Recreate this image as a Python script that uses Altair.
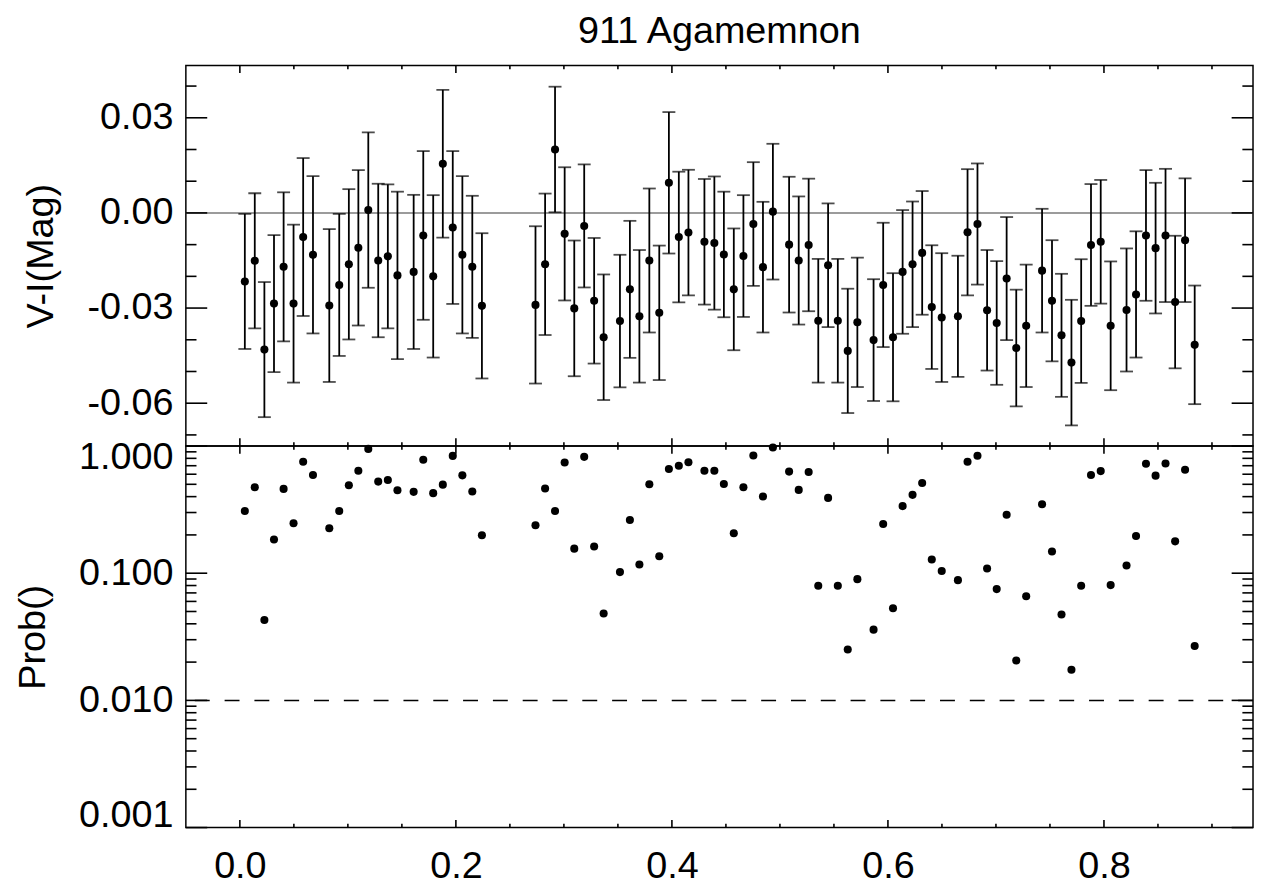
import altair as alt
import pandas as pd

# ---------------- data ----------------
phase = [0.0046, 0.0138, 0.0227, 0.0316, 0.0405, 0.0497, 0.0586, 0.0677, 0.0828, 0.0920,
         0.1009, 0.1097, 0.1189, 0.1281, 0.1370, 0.1459, 0.1609, 0.1698, 0.1790, 0.1879,
         0.1971, 0.2060, 0.2152, 0.2241, 0.2737, 0.2826, 0.2918, 0.3007, 0.3096, 0.3188,
         0.3280, 0.3368, 0.3519, 0.3611, 0.3699, 0.3791, 0.3883, 0.3972, 0.4064, 0.4153,
         0.4301, 0.4393, 0.4481, 0.4573, 0.4662, 0.4754, 0.4843, 0.4935, 0.5085, 0.5174,
         0.5266, 0.5355, 0.5446, 0.5536, 0.5628, 0.5717, 0.5867, 0.5956, 0.6047, 0.6136,
         0.6228, 0.6317, 0.6406, 0.6498, 0.6648, 0.6737, 0.6829, 0.6918, 0.7007, 0.7099,
         0.7188, 0.7280, 0.7427, 0.7519, 0.7607, 0.7699, 0.7789, 0.7880, 0.7970, 0.8062,
         0.8209, 0.8297, 0.8389, 0.8478, 0.8570, 0.8659, 0.8751, 0.8840]

vi = [-0.0216, -0.0151, -0.0431, -0.0286, -0.0170, -0.0286, -0.0076, -0.0132, -0.0292, -0.0227,
      -0.0162, -0.0110, 0.0009, -0.0150, -0.0137, -0.0197, -0.0186, -0.0071, -0.0200, 0.0155,
      -0.0046, -0.0132, -0.0170, -0.0293, -0.0290, -0.0162, 0.0200, -0.0066, -0.0301, -0.0041,
      -0.0277, -0.0392, -0.0341, -0.0241, -0.0326, -0.0150, -0.0315, 0.0095, -0.0076, -0.0062,
      -0.0091, -0.0095, -0.0131, -0.0241, -0.0136, -0.0035, -0.0171, 0.0004, -0.0100, -0.0150,
      -0.0101, -0.0340, -0.0165, -0.0340, -0.0435, -0.0345, -0.0401, -0.0227, -0.0392, -0.0186,
      -0.0162, -0.0126, -0.0297, -0.0330, -0.0326, -0.0061, -0.0035, -0.0307, -0.0347, -0.0207,
      -0.0426, -0.0356, -0.0182, -0.0277, -0.0386, -0.0472, -0.0341, -0.0101, -0.0091, -0.0356,
      -0.0306, -0.0257, -0.0071, -0.0111, -0.0071, -0.0281, -0.0086, -0.0416]

vi_err = [0.0213, 0.0213, 0.0213, 0.0216, 0.0235, 0.0249, 0.0249, 0.0248, 0.0241, 0.0224,
          0.0237, 0.0245, 0.0245, 0.0242, 0.0227, 0.0264, 0.0243, 0.0266, 0.0256, 0.0233,
          0.0241, 0.0248, 0.0224, 0.0229, 0.0248, 0.0223, 0.0198, 0.0210, 0.0214, 0.0194,
          0.0198, 0.0198, 0.0209, 0.0216, 0.0209, 0.0227, 0.0212, 0.0223, 0.0206, 0.0198,
          0.0198, 0.0210, 0.0198, 0.0192, 0.0192, 0.0195, 0.0206, 0.0214, 0.0214, 0.0202,
          0.0209, 0.0195, 0.0195, 0.0195, 0.0196, 0.0204, 0.0192, 0.0196, 0.0202, 0.0195,
          0.0198, 0.0195, 0.0195, 0.0203, 0.0191, 0.0199, 0.0191, 0.0190, 0.0195, 0.0194,
          0.0184, 0.0193, 0.0195, 0.0191, 0.0194, 0.0198, 0.0195, 0.0192, 0.0195, 0.0203,
          0.0194, 0.0199, 0.0206, 0.0206, 0.0210, 0.0209, 0.0195, 0.0187]

prob = [0.308, 0.474, 0.0428, 0.184, 0.460, 0.247, 0.751, 0.591, 0.226, 0.308,
        0.491, 0.640, 0.949, 0.525, 0.541, 0.449, 0.436, 0.779, 0.426, 0.497,
        0.836, 0.588, 0.439, 0.199, 0.238, 0.463, 0.308, 0.742, 0.156, 0.822,
        0.162, 0.0482, 0.102, 0.262, 0.117, 0.500, 0.136, 0.659, 0.700, 0.746,
        0.640, 0.640, 0.503, 0.206, 0.474, 0.842, 0.401, 0.972, 0.629, 0.452,
        0.624, 0.0798, 0.391, 0.0798, 0.0251, 0.0898, 0.0360, 0.244, 0.0531, 0.337,
        0.413, 0.512, 0.128, 0.104, 0.0882, 0.751, 0.838, 0.109, 0.0750, 0.288,
        0.0206, 0.0658, 0.349, 0.148, 0.0474, 0.0174, 0.0798, 0.591, 0.635, 0.0806,
        0.115, 0.196, 0.725, 0.585, 0.729, 0.178, 0.651, 0.0268]

zero_line = [0.0]
prob_threshold = [0.01]

x_major = [0.0, 0.2, 0.4, 0.6, 0.8]
x_minor = [0.05, 0.1, 0.15, 0.25, 0.3, 0.35, 0.45, 0.5, 0.55, 0.65, 0.7, 0.75, 0.85, 0.9]
vi_major = [-0.06, -0.03, 0.0, 0.03]
vi_minor = [-0.07, -0.05, -0.04, -0.02, -0.01, 0.01, 0.02, 0.04]
p_major = [0.001, 0.01, 0.1, 1.0]
p_minor = [0.002, 0.003, 0.004, 0.005, 0.006, 0.007, 0.008, 0.009,
           0.02, 0.03, 0.04, 0.05, 0.06, 0.07, 0.08, 0.09,
           0.2, 0.3, 0.4, 0.5, 0.6, 0.7, 0.8, 0.9]

# ---------------- layout / style ----------------
W = 1074
H1 = 383
H2 = 384
FONT = "Liberation Sans"
FS = 38
YT_MAJ, YT_MIN = 21.5, 10.7
XT_MAJ, XT_MIN = 7.7, 3.8
LW = 1.6
EB = 1.8
DOT = 66

xs = alt.Scale(domain=[-0.05, 0.938], nice=False, zero=False)
ys1 = alt.Scale(domain=[-0.0735, 0.0465], nice=False, zero=False)
ys2 = alt.Scale(type="log", domain=[0.001, 1.0], nice=False)

ax_x_top = None
ax_x_bot = alt.Axis(values=x_major, format=".1f", title=None, ticks=False, domain=False,
                    grid=False, labelPadding=20, labelFlush=False)
ax_y_top = alt.Axis(values=vi_major, title="V-I(Mag)", ticks=False, domain=False, grid=False,
                    labelExpr="datum.value < 0 ? '-' + format(-datum.value, '.2f') : format(datum.value, '.2f')",
                    labelPadding=13, titlePadding=26, minExtent=100, maxExtent=100)
ax_y_bot = alt.Axis(values=p_major, format=".3f", title="Prob()", ticks=False, domain=False,
                    grid=False, labelPadding=13, titlePadding=26, labelFlush=True,
                    labelFlushOffset=7, minExtent=108, maxExtent=108)

df = pd.DataFrame({"phase": phase, "vi": vi, "err": vi_err, "prob": prob})
df["lo"] = df["vi"] - df["err"]
df["hi"] = df["vi"] + df["err"]


def xtick_layers(values, length, H, axis):
    d = pd.DataFrame({"t": values})
    top = alt.Chart(d).mark_rule(color="black", strokeWidth=LW).encode(
        x=alt.X("t:Q", scale=xs, axis=axis), y=alt.value(0), y2=alt.value(length))
    bot = alt.Chart(d).mark_rule(color="black", strokeWidth=LW).encode(
        x=alt.X("t:Q", scale=xs, axis=axis), y=alt.value(H - length), y2=alt.value(H))
    return [top, bot]


def ytick_layers(values, length, scale, axis):
    d = pd.DataFrame({"t": values})
    left = alt.Chart(d).mark_rule(color="black", strokeWidth=LW).encode(
        y=alt.Y("t:Q", scale=scale, axis=axis), x=alt.value(0), x2=alt.value(length))
    right = alt.Chart(d).mark_rule(color="black", strokeWidth=LW).encode(
        y=alt.Y("t:Q", scale=scale, axis=axis), x=alt.value(W - length), x2=alt.value(W))
    return [left, right]


base = alt.Chart(df)

# ---------------- top panel ----------------
zero = alt.Chart(pd.DataFrame({"z": zero_line})).mark_rule(color="#7a7a7a", strokeWidth=1.6).encode(
    y=alt.Y("z:Q", scale=ys1, axis=ax_y_top))

bars = base.mark_rule(color="black", strokeWidth=EB).encode(
    x=alt.X("phase:Q", scale=xs, axis=ax_x_top),
    y=alt.Y("lo:Q", scale=ys1, axis=ax_y_top),
    y2="hi:Q")
cap_lo = base.mark_tick(color="black", orient="horizontal", size=13, thickness=EB).encode(
    x=alt.X("phase:Q", scale=xs, axis=ax_x_top),
    y=alt.Y("lo:Q", scale=ys1, axis=ax_y_top))
cap_hi = base.mark_tick(color="black", orient="horizontal", size=13, thickness=EB).encode(
    x=alt.X("phase:Q", scale=xs, axis=ax_x_top),
    y=alt.Y("hi:Q", scale=ys1, axis=ax_y_top))
pts1 = base.mark_circle(color="black", size=DOT, opacity=1).encode(
    x=alt.X("phase:Q", scale=xs, axis=ax_x_top),
    y=alt.Y("vi:Q", scale=ys1, axis=ax_y_top))

top_layers = [zero, bars, cap_lo, cap_hi, pts1]
top_layers += xtick_layers(x_major, XT_MAJ, H1, ax_x_top) + xtick_layers(x_minor, XT_MIN, H1, ax_x_top)
top_layers += ytick_layers(vi_major, YT_MAJ, ys1, ax_y_top) + ytick_layers(vi_minor, YT_MIN, ys1, ax_y_top)

top = alt.layer(*top_layers).properties(
    width=W, height=H1,
    title=alt.TitleParams("911 Agamemnon", fontSize=FS, font=FONT, fontWeight="normal",
                          color="black", anchor="middle", frame="group", offset=14))

# ---------------- bottom panel ----------------
thresh = alt.Chart(pd.DataFrame({"p": prob_threshold})).mark_rule(
    color="black", strokeWidth=1.5, strokeDash=[15, 15]).encode(
    y=alt.Y("p:Q", scale=ys2, axis=ax_y_bot))

pts2 = base.mark_circle(color="black", size=DOT, opacity=1).encode(
    x=alt.X("phase:Q", scale=xs, axis=ax_x_bot),
    y=alt.Y("prob:Q", scale=ys2, axis=ax_y_bot))

bot_layers = [thresh, pts2]
bot_layers += xtick_layers(x_major, XT_MAJ, H2, ax_x_bot) + xtick_layers(x_minor, XT_MIN, H2, ax_x_bot)
bot_layers += ytick_layers(p_major, YT_MAJ, ys2, ax_y_bot) + ytick_layers(p_minor, YT_MIN, ys2, ax_y_bot)

bottom = alt.layer(*bot_layers).properties(width=W, height=H2)

chart = alt.vconcat(top, bottom, spacing=0, bounds="flush").properties(
    padding={"left": 6, "right": 0, "top": 1, "bottom": 0}
).configure_view(
    stroke="black", strokeWidth=1.5
).configure_axis(
    labelFont=FONT, titleFont=FONT, labelFontSize=FS, titleFontSize=FS,
    labelColor="black", titleColor="black", titleFontWeight="normal"
)

chart.save("out.html", embed_options={"renderer": "svg", "actions": False})
